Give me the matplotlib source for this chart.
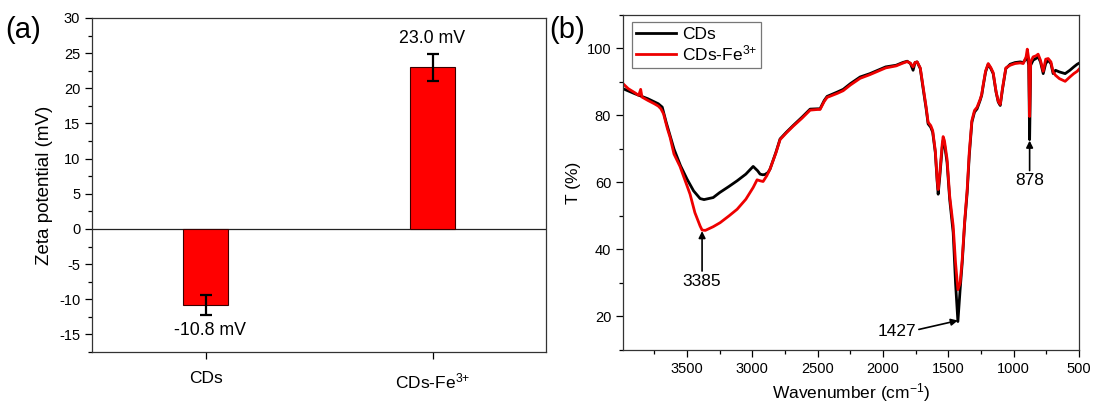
import matplotlib
matplotlib.use('Agg')
import matplotlib.pyplot as plt
from matplotlib.ticker import MultipleLocator

plt.rcParams['font.family'] = ['Liberation Sans', 'DejaVu Sans']
plt.rcParams['mathtext.fontset'] = 'custom'
plt.rcParams['mathtext.rm'] = 'Liberation Sans'
plt.rcParams['mathtext.it'] = 'Liberation Sans'
plt.rcParams['axes.unicode_minus'] = False

# (a) zeta potential
samples = ['CDs', 'CDs-Fe$^{3{+}}$']
zeta = [-10.8, 23.0]
zeta_err = [1.4, 1.9]
zeta_labels = ['-10.8 mV', '23.0 mV']

# (b) FTIR spectra
wn_cds = [3990, 3900, 3800, 3720, 3690, 3660, 3630, 3600, 3550, 3500, 3450, 3400, 3370,
          3300, 3250, 3180, 3117, 3050, 2994, 2960, 2941, 2920, 2903, 2880, 2865, 2820,
          2788, 2740, 2688, 2620, 2558, 2500, 2482, 2450, 2428, 2350, 2305, 2250, 2175,
          2100, 2022, 1980, 1900, 1850, 1815, 1790, 1770, 1755, 1739, 1715, 1693, 1670,
          1655, 1635, 1620, 1600, 1585, 1578, 1565, 1547, 1540, 1530, 1510, 1490, 1463,
          1445, 1427, 1410, 1394, 1375, 1356, 1340, 1320, 1300, 1280, 1257, 1245, 1234,
          1215, 1195, 1175, 1157, 1135, 1118, 1103, 1085, 1060, 1027, 990, 950, 927, 905,
          896, 885, 878, 870, 851, 830, 813, 795, 774, 755, 736, 715, 698, 680, 650, 606,
          570, 540, 514, 500]
t_cds = [88.0, 86.5, 85.0, 83.5, 82.5, 78.0, 74.0, 70.0, 65.0, 61.0, 57.5, 55.2, 54.9,
         55.5, 57.0, 58.8, 60.5, 62.5, 64.8, 63.5, 62.5, 62.3, 62.4, 63.0, 64.0, 69.0,
         73.0, 75.0, 77.0, 79.5, 81.9, 82.0, 82.0, 84.5, 85.7, 87.0, 87.8, 89.5, 91.5,
         92.5, 93.8, 94.5, 95.0, 95.8, 96.2, 95.5, 93.5, 95.8, 96.0, 94.0, 88.0, 82.0,
         77.5, 76.5, 75.0, 69.0, 60.0, 56.5, 62.0, 70.5, 72.5, 71.5, 66.0, 55.0, 45.0,
         30.0, 18.5, 28.0, 36.0, 48.0, 57.0, 68.0, 78.0, 81.0, 82.0, 84.5, 86.0, 88.7,
         93.0, 95.3, 94.0, 92.5, 87.0, 84.0, 83.0, 88.0, 94.0, 95.3, 95.8, 96.0, 95.8, 97.0,
         97.5, 95.0, 72.8, 95.0, 96.5, 97.0, 97.5, 96.0, 92.5, 95.5, 96.5, 95.5, 92.5,
         93.5, 93.0, 92.5, 93.5, 94.5, 95.3, 95.6]

wn_fe = [3990, 3950, 3900, 3870, 3855, 3845, 3800, 3750, 3720, 3700, 3680, 3650, 3630,
         3600, 3554, 3500, 3477, 3440, 3400, 3385, 3360, 3300, 3247, 3180, 3117, 3050,
         2994, 2964, 2940, 2918, 2890, 2865, 2820, 2788, 2740, 2688, 2620, 2558, 2500,
         2482, 2450, 2428, 2350, 2305, 2250, 2175, 2100, 2022, 1980, 1900, 1850, 1815,
         1790, 1770, 1755, 1739, 1715, 1693, 1670, 1655, 1635, 1620, 1600, 1585, 1578,
         1565, 1547, 1540, 1530, 1510, 1490, 1463, 1445, 1427, 1410, 1394, 1375, 1356,
         1340, 1320, 1300, 1280, 1257, 1245, 1234, 1215, 1195, 1175, 1157, 1135, 1118,
         1103, 1085, 1060, 1027, 990, 950, 927, 905, 896, 885, 878, 870, 851, 830, 813,
         795, 774, 755, 736, 715, 698, 680, 650, 606, 570, 540, 514, 500]
t_fe = [89.5, 88.0, 86.8, 86.0, 87.8, 85.5, 84.5, 83.5, 82.8, 82.0, 80.5, 76.0, 73.5,
        68.5, 64.8, 59.0, 56.5, 51.0, 47.0, 45.8, 45.7, 46.8, 48.0, 50.0, 52.0, 55.0,
        58.5, 60.8, 60.5, 60.3, 62.0, 64.0, 68.8, 72.8, 74.8, 76.8, 79.2, 81.6, 81.8,
        81.8, 84.2, 85.4, 86.6, 87.4, 89.1, 91.1, 92.2, 93.5, 94.2, 94.8, 95.6, 96.1,
        95.6, 94.5, 95.8, 96.0, 94.2, 88.5, 82.5, 78.0, 77.0, 75.5, 69.5, 60.5, 57.9,
        63.0, 71.5, 73.7, 72.5, 67.0, 56.0, 47.0, 36.0, 28.0, 30.0, 37.0, 48.5, 57.9,
        69.0, 78.5, 81.5, 82.5, 84.8, 86.3, 89.0, 93.3, 95.5, 94.3, 92.8, 87.2, 84.2,
        83.3, 88.3, 94.2, 95.0, 95.5, 95.7, 95.5, 97.5, 99.8, 97.0, 79.7, 96.0, 97.5,
        97.8, 98.3, 96.5, 93.2, 96.8, 97.0, 96.0, 93.0, 92.0, 91.0, 90.2, 91.5, 92.5,
        93.2, 93.8]

fig = plt.figure(figsize=(10.94, 4.05), dpi=100)
ax1 = fig.add_axes([0.0841, 0.1309, 0.415, 0.8247])
ax2 = fig.add_axes([0.5695, 0.1358, 0.4168, 0.8272])

# ---- panel (a)
x = [1, 2]
ax1.bar(x, zeta, width=0.2, color='#ff0000', edgecolor='#3a0000', linewidth=0.8, zorder=2)
ax1.errorbar(x, zeta, yerr=zeta_err, fmt='none', ecolor='black', elinewidth=1.6,
             capsize=4, capthick=1.6, zorder=3)
ax1.axhline(0, color='#222222', linewidth=0.9, zorder=1)
ax1.text(1.02, zeta[0] - zeta_err[0] - 2.2, zeta_labels[0], ha='center', va='center', fontsize=12.8)
ax1.text(2.0, zeta[1] + zeta_err[1] + 2.2, zeta_labels[1], ha='center', va='center', fontsize=12.8)
ax1.set_xlim(0.5, 2.5)
ax1.set_ylim(-17.5, 30)
ax1.set_xticks(x)
ax1.set_xticklabels(samples, fontsize=12.5)
ax1.yaxis.set_major_locator(MultipleLocator(5))
ax1.yaxis.set_minor_locator(MultipleLocator(2.5))
ax1.tick_params(axis='y', which='major', direction='out', length=5, width=0.9, labelsize=10.5)
ax1.tick_params(axis='y', which='minor', direction='out', length=3, width=0.9)
ax1.tick_params(axis='x', direction='out', length=5, width=0.9, pad=9)
ax1.set_ylabel('Zeta potential (mV)', fontsize=13.5, labelpad=4)
for s in ax1.spines.values():
    s.set_linewidth(0.9)
    s.set_color('#333333')
fig.text(0.005, 0.925, '(a)', fontsize=21, ha='left', va='center')

# ---- panel (b)
ax2.plot(wn_cds, t_cds, color='black', linewidth=2.0, label='CDs')
ax2.plot(wn_fe, t_fe, color='#ee0000', linewidth=2.0, label='CDs-Fe$^{3{+}}$')
ax2.set_xlim(3990, 500)
ax2.set_ylim(10, 110)
ax2.set_xticks([3500, 3000, 2500, 2000, 1500, 1000, 500])
ax2.xaxis.set_minor_locator(MultipleLocator(250))
ax2.set_yticks([20, 40, 60, 80, 100])
ax2.yaxis.set_minor_locator(MultipleLocator(10))
ax2.tick_params(which='major', direction='out', length=5, width=0.9, labelsize=10.5)
ax2.tick_params(which='minor', direction='out', length=3, width=0.9)
ax2.set_xlabel('Wavenumber (cm$^{-1}$)', fontsize=12.5, labelpad=4)
ax2.set_ylabel('T (%)', fontsize=12.5, labelpad=4)
for s in ax2.spines.values():
    s.set_linewidth(0.9)
    s.set_color('#333333')

arrow = dict(arrowstyle='-|>', color='black', lw=1.2, mutation_scale=10, shrinkA=0, shrinkB=0)
ax2.annotate('3385', xy=(3385, 45.5), xytext=(3385, 30.5), ha='center', va='center',
             fontsize=12.5, arrowprops=arrow)
ax2.annotate('1427', xy=(1427, 18.8), xytext=(1895, 15.5), ha='center', va='center',
             fontsize=12.5, arrowprops=dict(arrow, relpos=(1.0, 0.6)))
ax2.annotate('878', xy=(878, 72.5), xytext=(878, 60.5), ha='center', va='center',
             fontsize=12.5, arrowprops=arrow)

leg = ax2.legend(loc='upper left', bbox_to_anchor=(0.02, 0.978), fontsize=12.5,
                 fancybox=False, framealpha=1, edgecolor='#777777', handlelength=2.3,
                 handletextpad=0.3, borderpad=0.25, labelspacing=0.1, borderaxespad=0)
leg.get_frame().set_linewidth(0.9)
fig.text(0.502, 0.925, '(b)', fontsize=21, ha='left', va='center')

fig.savefig('out.png', dpi=100)
